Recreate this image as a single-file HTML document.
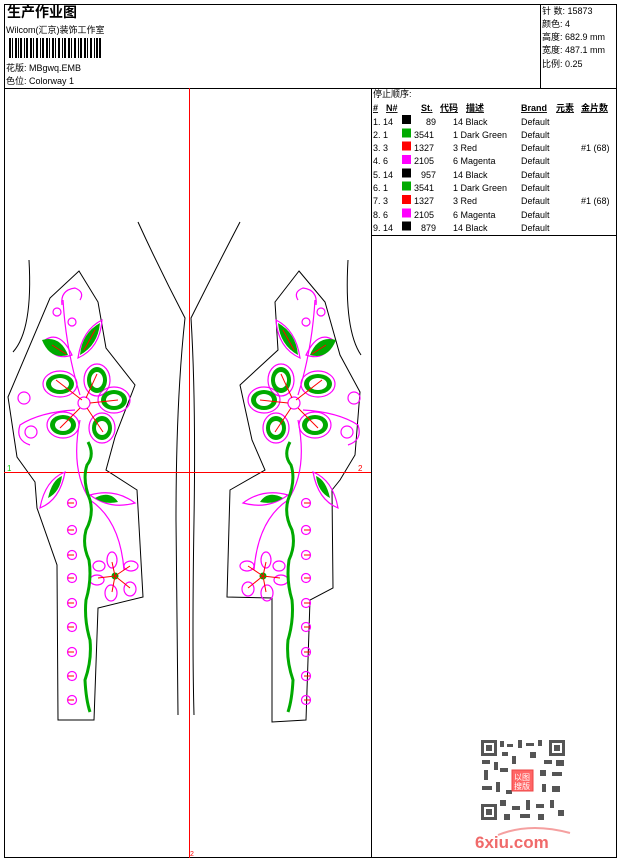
<!DOCTYPE html>
<html><head><meta charset="utf-8"><style>
body{margin:0;background:#fff;width:620px;height:860px;overflow:hidden;font-family:"Liberation Sans","Noto Sans CJK SC",sans-serif;}
svg text{font-family:"Liberation Sans","Noto Sans CJK SC",sans-serif;font-size:9px;fill:#000}
.b{font-weight:bold;text-decoration:underline}
</style></head><body>
<svg width="620" height="860" viewBox="0 0 620 860" xmlns="http://www.w3.org/2000/svg">
<rect x="4.5" y="4.5" width="612" height="853" fill="none" stroke="#000"/>
<line x1="4" y1="88.5" x2="617" y2="88.5" stroke="#000"/>
<line x1="540.5" y1="4" x2="540.5" y2="88" stroke="#000"/>
<line x1="371.5" y1="88" x2="371.5" y2="858" stroke="#000"/>
<line x1="371" y1="235.5" x2="617" y2="235.5" stroke="#000"/>
<text x="7" y="17" style="font-size:14px;font-weight:bold">生产作业图</text>
<text x="6" y="33">Wilcom(汇京)装饰工作室</text>
<g fill="#000">
<rect x="9" y="38" width="2" height="20"/><rect x="12" y="38" width="1" height="20"/><rect x="15" y="38" width="2" height="20"/><rect x="18" y="38" width="1" height="20"/><rect x="20" y="38" width="2" height="20"/><rect x="24" y="38" width="1" height="20"/><rect x="26" y="38" width="2" height="20"/><rect x="30" y="38" width="2" height="20"/><rect x="33" y="38" width="1" height="20"/><rect x="36" y="38" width="2" height="20"/><rect x="40" y="38" width="1" height="20"/><rect x="42" y="38" width="2" height="20"/><rect x="46" y="38" width="2" height="20"/><rect x="49" y="38" width="1" height="20"/><rect x="52" y="38" width="2" height="20"/><rect x="55" y="38" width="1" height="20"/><rect x="58" y="38" width="2" height="20"/><rect x="62" y="38" width="1" height="20"/><rect x="64" y="38" width="2" height="20"/><rect x="68" y="38" width="2" height="20"/><rect x="71" y="38" width="1" height="20"/><rect x="74" y="38" width="2" height="20"/><rect x="78" y="38" width="1" height="20"/><rect x="80" y="38" width="2" height="20"/><rect x="84" y="38" width="2" height="20"/><rect x="87" y="38" width="1" height="20"/><rect x="90" y="38" width="2" height="20"/><rect x="94" y="38" width="1" height="20"/><rect x="96" y="38" width="2" height="20"/><rect x="99" y="38" width="2" height="20"/>
</g>
<text x="6" y="71">花版:  MBgwq.EMB</text>
<text x="6" y="84">色位:  Colorway 1</text>
<text x="542" y="14">针 数:  15873</text>
<text x="542" y="27">颜色:  4</text>
<text x="542" y="40">高度:  682.9 mm</text>
<text x="542" y="53">宽度:  487.1 mm</text>
<text x="542" y="67">比例:  0.25</text>
<text x="373" y="97">停止顺序:</text>
<text x="373" y="111" class="b">#</text><text x="386" y="111" class="b">N#</text><text x="421" y="111" class="b">St.</text><text x="440" y="111" class="b">代码</text><text x="466" y="111" class="b">描述</text><text x="521" y="111" class="b">Brand</text><text x="556" y="111" class="b">元素</text><text x="581" y="111" class="b">金片数</text>
<g>
<rect x="402" y="115" width="9" height="9" fill="#000"/><rect x="402" y="128.5" width="9" height="9" fill="#0a0"/><rect x="402" y="141.5" width="9" height="9" fill="#f00"/><rect x="402" y="155" width="9" height="9" fill="#f0f"/><rect x="402" y="168.5" width="9" height="9" fill="#000"/><rect x="402" y="181.5" width="9" height="9" fill="#0a0"/><rect x="402" y="195" width="9" height="9" fill="#f00"/><rect x="402" y="208.5" width="9" height="9" fill="#f0f"/><rect x="402" y="221.5" width="9" height="9" fill="#000"/>
</g>
<g>
<text x="373" y="125">1.  14</text><text x="436" y="125" text-anchor="end">89</text><text x="453" y="125">14 Black</text><text x="521" y="125">Default</text>
<text x="373" y="138">2.  1</text><text x="414" y="138">3541</text><text x="453" y="138">  1 Dark Green</text><text x="521" y="138">Default</text>
<text x="373" y="151">3.  3</text><text x="414" y="151">1327</text><text x="453" y="151">  3 Red</text><text x="521" y="151">Default</text><text x="581" y="151">#1 (68)</text>
<text x="373" y="164">4.  6</text><text x="414" y="164">2105</text><text x="453" y="164">  6 Magenta</text><text x="521" y="164">Default</text>
<text x="373" y="178">5.  14</text><text x="436" y="178" text-anchor="end">957</text><text x="453" y="178">14 Black</text><text x="521" y="178">Default</text>
<text x="373" y="191">6.  1</text><text x="414" y="191">3541</text><text x="453" y="191">  1 Dark Green</text><text x="521" y="191">Default</text>
<text x="373" y="204">7.  3</text><text x="414" y="204">1327</text><text x="453" y="204">  3 Red</text><text x="521" y="204">Default</text><text x="581" y="204">#1 (68)</text>
<text x="373" y="218">8.  6</text><text x="414" y="218">2105</text><text x="453" y="218">  6 Magenta</text><text x="521" y="218">Default</text>
<text x="373" y="231">9.  14</text><text x="436" y="231" text-anchor="end">879</text><text x="453" y="231">14 Black</text><text x="521" y="231">Default</text>
</g>
<g fill="none" stroke="#000" stroke-width="1">
<path d="M29,260 Q33,330 13,352"/>
<path d="M348,260 Q344,330 361,355"/>
<path d="M138,222 Q160,270 185,318 Q176,400 176,520 Q177,640 178,715"/>
<path d="M240,222 Q215,270 191,318 Q196,400 194,520 Q192,640 194,715"/>
<path d="M79,271 L98,302 L106,348 L135,385 L115,437 L106,470 L137,490 L143,597 L98,608 L94,720 L58,720 L57,565 L37,508 L35,482 L17,457 L8,397 L50,298 Z"/>
<path d="M299,271 L325,302 L340,355 L360,392 L355,455 L340,480 L332,490 L333,588 L310,600 L306,720 L272,722 L272,598 L227,597 L230,490 L265,470 L252,440 L240,385 L278,350 L275,302 Z"/>
</g>
<line x1="189.5" y1="88" x2="189.5" y2="858" stroke="#f00"/>
<line x1="4" y1="472.5" x2="371" y2="472.5" stroke="#f00"/>
<text x="7" y="471" style="fill:#0c0;font-size:8px">1</text>
<text x="358" y="471" style="fill:#f00;font-size:8px">2</text>
<text x="190" y="856" style="fill:#f00;font-size:7px">2</text>
<defs>
<g id="des">
<g fill="none" stroke="#f0f" stroke-width="1.2">
<path d="M62,305 Q60,290 75,288 Q85,292 80,300"/><path d="M63,300 Q66,350 80,395"/>
<circle cx="57" cy="312" r="4"/><circle cx="72" cy="322" r="4"/>
<circle cx="84" cy="403" r="6"/>
<ellipse cx="60" cy="384" rx="17" ry="13"/><ellipse cx="97" cy="380" rx="13" ry="16"/><ellipse cx="114" cy="400" rx="16" ry="13"/><ellipse cx="102" cy="428" rx="13" ry="15"/><ellipse cx="63" cy="425" rx="16" ry="13"/>
<path d="M45,340 Q60,330 72,355 Q52,362 45,340Z"/><path d="M102,320 Q100,348 78,358 Q82,330 102,320Z"/>
<path d="M75,410 Q40,412 20,425 Q15,440 30,445"/><circle cx="24" cy="398" r="6"/><circle cx="31" cy="432" r="6"/>
<path d="M80,420 Q70,470 90,500 Q120,520 124,570"/>
<circle cx="72" cy="503" r="4.5"/><circle cx="72" cy="530" r="4.5"/><circle cx="72" cy="555" r="4.5"/><circle cx="72" cy="578" r="4.5"/><circle cx="72" cy="603" r="4.5"/><circle cx="72" cy="627" r="4.5"/><circle cx="72" cy="652" r="4.5"/><circle cx="72" cy="676" r="4.5"/><circle cx="72" cy="700" r="4.5"/>
<ellipse cx="112" cy="560" rx="5" ry="8"/><ellipse cx="131" cy="566" rx="7" ry="5"/><ellipse cx="130" cy="589" rx="6" ry="7"/><ellipse cx="111" cy="593" rx="6" ry="8"/><ellipse cx="97" cy="580" rx="7" ry="5"/><ellipse cx="99" cy="566" rx="6" ry="5"/>
<path d="M90,495 Q115,488 135,503 Q110,510 90,495Z"/>
<path d="M40,508 Q45,480 65,472 Q60,500 40,508Z"/>
</g>
<g fill="#0a0">
<path d="M42,340 Q60,335 68,355 Q50,360 42,340Z"/><path d="M100,323 Q98,345 80,355 Q82,333 100,323Z"/>
<ellipse cx="60" cy="384" rx="14" ry="10"/><ellipse cx="97" cy="380" rx="10" ry="13"/><ellipse cx="114" cy="400" rx="13" ry="10"/><ellipse cx="102" cy="428" rx="10" ry="12"/><ellipse cx="63" cy="425" rx="13" ry="10"/>
<path d="M95,498 Q110,490 118,502 Q105,505 95,498Z"/><path d="M48,498 Q52,480 62,476 Q60,492 48,498Z"/>
<circle cx="115" cy="576" r="3.5"/>
</g>
<g fill="#fff"><ellipse cx="60" cy="384" rx="9" ry="6"/><ellipse cx="97" cy="380" rx="6" ry="8"/><ellipse cx="114" cy="400" rx="8" ry="6"/><ellipse cx="102" cy="428" rx="6" ry="7"/><ellipse cx="63" cy="425" rx="8" ry="6"/></g>
<path d="M88,442 Q95,455 87,465 Q82,480 90,500 Q94,515 86,530 Q82,545 89,560 Q92,580 86,600 Q84,620 90,640 Q92,660 85,680 Q86,700 90,712" fill="none" stroke="#0a0" stroke-width="3"/>
<g stroke="#f00" stroke-width="1" fill="none">
<path d="M56,380 L82,400 M97,374 L86,398 M118,400 L90,403 M103,432 L87,408 M60,428 L80,408"/>
<path d="M52,345 L66,354 M95,330 L84,350"/>
<path d="M115,576 L98,578 M115,576 L130,566 M115,576 L130,588 M115,576 L112,592 M115,576 L112,562"/>
<path d="M68,503h6M68,530h6M68,555h6M68,578h6M68,603h6M68,627h6M68,652h6M68,676h6M68,700h6"/>
</g>
</g>
</defs>
<use href="#des"/>
<use href="#des" transform="translate(378,0) scale(-1,1)"/>
<g fill="#555">
<rect x="481" y="740" width="84" height="80" fill="#fff"/>
<rect x="481" y="740" width="16" height="16"/><rect x="484" y="743" width="10" height="10" fill="#fff"/><rect x="486" y="745" width="6" height="6"/>
<rect x="549" y="740" width="16" height="16"/><rect x="552" y="743" width="10" height="10" fill="#fff"/><rect x="554" y="745" width="6" height="6"/>
<rect x="481" y="804" width="16" height="16"/><rect x="484" y="807" width="10" height="10" fill="#fff"/><rect x="486" y="809" width="6" height="6"/>
<rect x="500" y="741" width="4" height="6"/><rect x="507" y="744" width="6" height="3"/><rect x="518" y="740" width="4" height="8"/><rect x="526" y="743" width="8" height="3"/><rect x="538" y="740" width="4" height="6"/>
<rect x="482" y="760" width="8" height="4"/><rect x="494" y="762" width="4" height="8"/><rect x="502" y="752" width="6" height="4"/><rect x="512" y="756" width="4" height="8"/><rect x="530" y="752" width="6" height="6"/><rect x="544" y="760" width="8" height="4"/><rect x="556" y="760" width="8" height="6"/>
<rect x="484" y="770" width="4" height="10"/><rect x="500" y="768" width="8" height="4"/><rect x="540" y="770" width="6" height="6"/><rect x="552" y="772" width="10" height="4"/>
<rect x="482" y="786" width="10" height="4"/><rect x="496" y="782" width="4" height="10"/><rect x="506" y="790" width="6" height="4"/><rect x="542" y="784" width="4" height="8"/><rect x="552" y="786" width="8" height="6"/>
<rect x="500" y="800" width="6" height="6"/><rect x="512" y="806" width="8" height="4"/><rect x="526" y="800" width="4" height="10"/><rect x="536" y="804" width="8" height="4"/><rect x="550" y="800" width="4" height="8"/><rect x="558" y="810" width="6" height="6"/><rect x="504" y="814" width="6" height="6"/><rect x="520" y="814" width="10" height="4"/><rect x="538" y="814" width="6" height="6"/>
</g>
<rect x="512" y="770" width="21" height="21" fill="#f66" stroke="#e44"/>
<text x="514" y="780" style="fill:#fff;font-size:8px">以图</text><text x="514" y="789" style="fill:#fff;font-size:8px">搜版</text>
<path d="M498,835 Q530,822 570,833" fill="none" stroke="#f5a0a0" stroke-width="2"/>
<text x="475" y="848" style="fill:#f06a6a;font-size:17px;font-weight:bold">6xiu.com</text>
</svg>
</body></html>
